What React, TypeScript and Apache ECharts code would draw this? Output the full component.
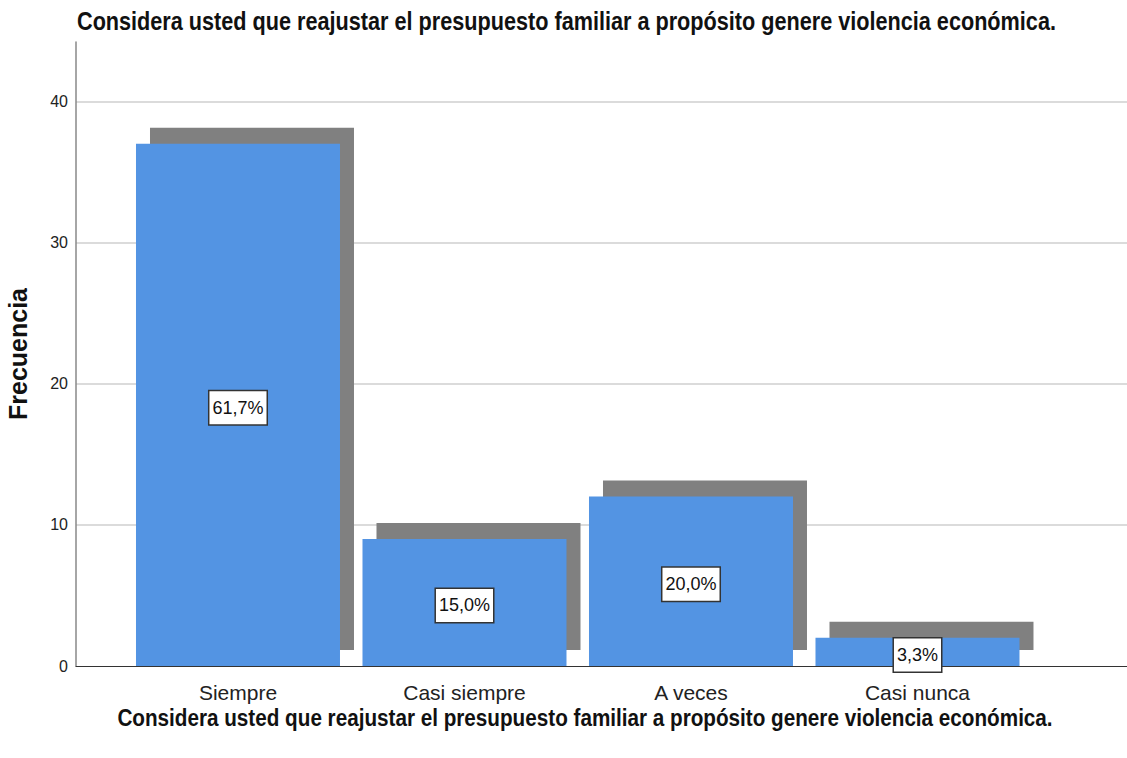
import React, { useEffect, useRef } from "react";
import * as echarts from "echarts";

const categories = ["Siempre", "Casi siempre", "A veces", "Casi nunca"];
const frequencies = [37, 9, 12, 2];
const percentLabels = ["61,7%", "15,0%", "20,0%", "3,3%"];
const yTickValues = [0, 10, 20, 30, 40];
const chartTitle =
  "Considera usted que reajustar el presupuesto familiar a propósito genere violencia económica.";
const yAxisTitle = "Frecuencia";

export default function App() {
  const ref = useRef<HTMLDivElement>(null);

  useEffect(() => {
    if (!ref.current) return;
    const chart = echarts.init(ref.current, undefined, { renderer: "svg" });
    const barW = 204;
    const points = frequencies.map((v, i) => [i, v]);
    const font = "Liberation Sans, Arial, sans-serif";
    chart.setOption({
      animation: false,
      backgroundColor: "#ffffff",
      graphic: [
        {
          type: "text",
          x: 77,
          y: 21,
          scaleX: 0.866,
          style: {
            text: chartTitle,
            fontFamily: font,
            fontWeight: "bold",
            fontSize: 25,
            fill: "#111",
            textAlign: "left",
            textVerticalAlign: "middle",
          },
        },
        {
          type: "text",
          x: 585,
          y: 718,
          scaleX: 0.862,
          style: {
            text: chartTitle,
            fontFamily: font,
            fontWeight: "bold",
            fontSize: 24,
            fill: "#111",
            textAlign: "center",
            textVerticalAlign: "middle",
          },
        },
      ],
      grid: {
        left: 76,
        right: 0,
        top: 42,
        bottom: 92,
        containLabel: false,
        outerBoundsMode: "none",
      },
      xAxis: {
        type: "value",
        min: -0.7152,
        max: 3.925,
        axisLine: { show: true, onZero: false, lineStyle: { color: "#333", width: 1 } },
        axisTick: { show: false },
        splitLine: { show: false },
        axisLabel: {
          customValues: [0, 1, 2, 3],
          formatter: (v: number) => categories[Math.round(v)] ?? "",
          fontFamily: font,
          fontSize: 21,
          color: "#222",
          margin: 16,
        },
      },
      yAxis: {
        type: "value",
        min: 0,
        max: 44.2,
        interval: 10,
        name: yAxisTitle,
        nameLocation: "middle",
        nameGap: 46,
        nameTextStyle: {
          fontFamily: font,
          fontWeight: "bold",
          fontSize: 25,
          color: "#111",
        },
        axisLine: { show: true, onZero: false, lineStyle: { color: "#888", width: 1.5 } },
        axisTick: { show: false },
        splitLine: {
          show: true,
          showMinLine: false,
          showMaxLine: false,
          lineStyle: { color: "#cfcfcf", width: 1.5 },
        },
        axisLabel: {
          customValues: yTickValues,
          fontFamily: font,
          fontSize: 16,
          color: "#222",
          margin: 8,
        },
      },
      series: [
        {
          type: "custom",
          z: 1,
          data: points,
          renderItem: (params: any, api: any) => {
            const top = api.coord([api.value(0), api.value(1)]);
            const base = api.coord([api.value(0), 0]);
            return {
              type: "rect",
              shape: {
                x: top[0] - barW / 2 + 14,
                y: top[1] - 16,
                width: barW,
                height: base[1] - top[1],
              },
              style: { fill: "#808080" },
            };
          },
        },
        {
          type: "bar",
          z: 2,
          data: points,
          barWidth: barW,
          itemStyle: { color: "#5394e3" },
          label: {
            show: true,
            position: "inside",
            offset: [0, 3],
            formatter: (p: any) => percentLabels[p.dataIndex],
            fontFamily: font,
            fontSize: 18,
            color: "#111",
            backgroundColor: "#ffffff",
            borderColor: "#333",
            borderWidth: 1.5,
            padding: [8, 3, 7, 3],
          },
        },
      ],
    });
    return () => chart.dispose();
  }, []);

  return (
    <div
      ref={ref}
      style={{ position: "fixed", left: 0, top: 0, width: 1127, height: 758 }}
    />
  );
}
